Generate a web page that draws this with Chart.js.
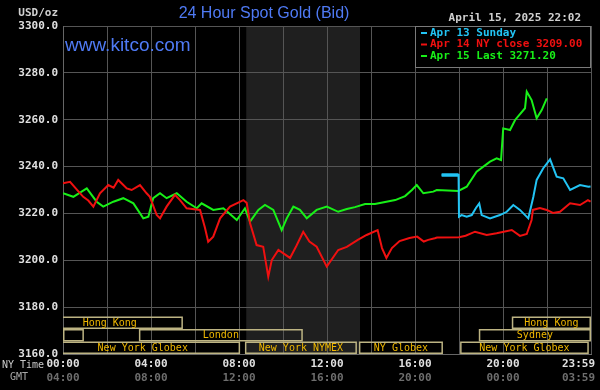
<!DOCTYPE html>
<html>
<head>
<meta charset="utf-8">
<script src="https://cdn.jsdelivr.net/npm/chart.js@4.4.1/dist/chart.umd.min.js"></script>
<style>
  body { margin: 0; background: #000; }
  #wrap { width: 600px; height: 390px; }
</style>
</head>
<body>
<div id="wrap"><canvas id="myChart"></canvas></div>
<script>
// series labels (legend)
const SERIES_LABELS = ['Apr 13 Sunday', 'Apr 14 NY close 3209.00', 'Apr 15 Last 3271.20'];
const SERIES_COLORS = ['#22c4f4', '#f01010', '#18f018'];

// Apr 13 Sunday (cyan)
const cyanHours = [17.21, 17.98, 18.0, 18.12, 18.35, 18.58, 18.77, 18.92, 19.03, 19.41, 19.86, 20.17, 20.47, 20.77, 21.15, 21.38, 21.53, 21.83, 22.14, 22.44, 22.74, 23.05, 23.5, 23.88, 23.98];
const cyanPrices = [3236.4, 3236.4, 3218.6, 3219.3, 3218.6, 3219.3, 3222.3, 3224.3, 3219.3, 3217.9, 3219.3, 3220.7, 3223.6, 3221.5, 3217.9, 3227.1, 3234.3, 3239.3, 3243.1, 3235.7, 3235.0, 3230.0, 3232.1, 3231.4, 3231.5];

// Apr 14 (red)
const redHours = [0, 0.32, 0.6, 0.92, 1.15, 1.38, 1.68, 2.06, 2.3, 2.51, 2.9, 3.12, 3.5, 3.8, 3.95, 4.26, 4.41, 4.71, 5.09, 5.32, 5.62, 6.23, 6.45, 6.6, 6.83, 7.14, 7.59, 8.2, 8.35, 8.5, 8.8, 9.1, 9.33, 9.49, 9.79, 10.32, 10.6, 10.92, 11.2, 11.53, 11.99, 12.51, 12.9, 13.4, 13.8, 14.3, 14.5, 14.7, 14.95, 15.3, 15.75, 16.1, 16.4, 16.6, 16.9, 17.0, 18.0, 18.3, 18.73, 19.26, 19.71, 20.4, 20.77, 21.08, 21.3, 21.36, 21.68, 21.99, 22.27, 22.59, 23.05, 23.5, 23.86, 23.98];
const redPrices = [3232.9, 3233.5, 3230.5, 3227.1, 3225.5, 3222.9, 3228.6, 3232.1, 3231.0, 3234.3, 3230.7, 3230.0, 3232.1, 3228.6, 3227.1, 3219.3, 3217.9, 3222.9, 3227.9, 3225.7, 3222.2, 3221.5, 3214.0, 3207.9, 3210.1, 3217.9, 3222.9, 3225.7, 3224.5, 3215.9, 3206.5, 3205.8, 3193.0, 3200.1, 3204.4, 3201.0, 3206.0, 3212.2, 3208.0, 3205.8, 3197.3, 3204.4, 3205.7, 3208.7, 3210.8, 3212.9, 3205.2, 3201.0, 3205.2, 3208.2, 3209.5, 3210.1, 3208.0, 3208.7, 3209.4, 3209.7, 3209.8, 3210.5, 3212.2, 3210.8, 3211.5, 3212.9, 3210.4, 3211.2, 3217.2, 3221.5, 3222.3, 3221.5, 3220.2, 3220.7, 3224.3, 3223.6, 3225.7, 3225.0];

// Apr 15 (green)
const greenHours = [0, 0.47, 1.08, 1.53, 1.83, 2.29, 2.74, 3.2, 3.65, 3.88, 4.1, 4.41, 4.71, 5.17, 5.62, 6.08, 6.3, 6.83, 7.29, 7.9, 8.27, 8.5, 8.88, 9.18, 9.56, 9.94, 10.17, 10.47, 10.77, 11.08, 11.53, 11.99, 12.51, 12.9, 13.27, 13.73, 14.18, 14.64, 15.1, 15.55, 15.86, 16.08, 16.38, 16.83, 16.99, 17.97, 18.35, 18.8, 19.41, 19.71, 19.91, 20.01, 20.32, 20.55, 21.0, 21.08, 21.3, 21.53, 21.76, 21.99];
const greenPrices = [3228.6, 3227.1, 3230.7, 3225.0, 3222.9, 3225.0, 3226.5, 3224.3, 3217.9, 3218.6, 3226.5, 3228.6, 3226.5, 3228.6, 3225.0, 3222.2, 3224.3, 3221.5, 3222.2, 3217.2, 3222.2, 3216.5, 3221.5, 3223.6, 3221.5, 3212.9, 3217.9, 3222.9, 3221.5, 3217.9, 3221.5, 3222.9, 3220.7, 3221.9, 3222.7, 3224.0, 3224.0, 3224.9, 3225.7, 3227.4, 3230.0, 3232.1, 3228.6, 3229.3, 3230.0, 3229.6, 3231.4, 3237.8, 3242.1, 3243.5, 3242.8, 3256.3, 3255.6, 3259.9, 3264.9, 3272.0, 3268.4, 3260.6, 3264.1, 3269.1];

// x tick labels
const TICK_HOURS = [0, 4, 8, 12, 16, 20, 24];
const NY_LABELS = ['00:00', '04:00', '08:00', '12:00', '16:00', '20:00', '23:59'];
const GMT_LABELS = ['04:00', '08:00', '12:00', '16:00', '20:00', '00:00', '03:59'];

// NYMEX floor hours (shaded)
const nymexHours = [8.33, 13.5];

// trading sessions
const sessionNames = ['Hong Kong', 'Hong Kong', '', 'London', 'Sydney', 'New York Globex', 'New York NYMEX', 'NY Globex', 'New York Globex'];
const sessionStart = [-1.2, 20.4, 0, 3.45, 18.9, -0.8, 8.27, 13.45, 18.05];
const sessionEnd = [5.45, 24, 0.95, 10.9, 24, 8.05, 13.36, 17.27, 23.9];
const sessionRow = [0, 0, 1, 1, 1, 2, 2, 2, 2];

const MONO = '"DejaVu Sans Mono", monospace';

function toPoints(hours, prices) {
  return hours.map((h, i) => ({ x: h, y: prices[i] }));
}

const kitcoPlugin = {
  id: 'kitco',
  beforeDraw(chart) {
    const { ctx, chartArea: a, scales: { x } } = chart;
    ctx.save();
    ctx.fillStyle = '#000';
    ctx.fillRect(0, 0, chart.width, chart.height);
    const x0 = x.getPixelForValue(nymexHours[0]);
    const x1 = x.getPixelForValue(nymexHours[1]);
    ctx.fillStyle = '#1f1f1f';
    ctx.fillRect(x0, a.top, x1 - x0, a.bottom - a.top);
    ctx.restore();
  },
  beforeDatasetsDraw(chart) {
    const { ctx, chartArea: a, scales: { x } } = chart;
    const rowH = 12.5;
    ctx.save();
    ctx.beginPath();
    ctx.rect(a.left, a.top, a.right - a.left, a.bottom - a.top);
    ctx.clip();
    ctx.strokeStyle = '#bdb483';
    ctx.lineWidth = 1.5;
    ctx.font = '10px ' + MONO;
    ctx.textAlign = 'center';
    ctx.textBaseline = 'middle';
    sessionNames.forEach((name, i) => {
      const x0 = x.getPixelForValue(sessionStart[i]);
      const x1 = x.getPixelForValue(sessionEnd[i]);
      const top = a.bottom - (3 - sessionRow[i]) * rowH;
      ctx.strokeRect(x0 + 0.75, top + 0.75, x1 - x0 - 1.5, rowH - 1.5);
      ctx.fillStyle = '#f0b800';
      ctx.fillText(name, (x0 + x1) / 2, top + rowH / 2 + 0.5);
    });
    ctx.restore();
  },
  afterDraw(chart) {
    const { ctx, scales: { x } } = chart;
    ctx.save();
    // title
    ctx.textBaseline = 'middle';
    ctx.textAlign = 'center';
    ctx.fillStyle = '#4f7af4';
    ctx.font = '16px "Liberation Sans", Arial, sans-serif';
    ctx.fillText('24 Hour Spot Gold (Bid)', 264, 14);
    ctx.textAlign = 'left';
    ctx.font = '19px "Liberation Sans", Arial, sans-serif';
    ctx.fillText('www.kitco.com', 65, 46);

    ctx.font = 'bold 11px ' + MONO;
    ctx.fillStyle = '#d0d0d0';
    ctx.textAlign = 'right';
    ctx.fillText('USD/oz', 58, 13);
    ctx.fillText('April 15, 2025 22:02', 581, 18);

    // legend box
    ctx.fillStyle = '#000';
    ctx.fillRect(415, 26, 175, 41);
    ctx.strokeStyle = '#7a7a7a';
    ctx.lineWidth = 1;
    ctx.strokeRect(415.5, 26.5, 175, 41);
    ctx.textAlign = 'left';
    SERIES_LABELS.forEach((lbl, i) => {
      const y = 33 + i * 11.5;
      ctx.fillStyle = SERIES_COLORS[i];
      ctx.fillRect(421, y - 1, 6, 2);
      ctx.fillText(lbl, 430, y);
    });

    // x tick labels
    TICK_HOURS.forEach((h, i) => {
      let px = x.getPixelForValue(h);
      ctx.textAlign = 'center';
      if (i === TICK_HOURS.length - 1) { ctx.textAlign = 'right'; px += 4; }
      ctx.font = 'bold 11px ' + MONO;
      ctx.fillStyle = '#e0e0e0';
      ctx.fillText(NY_LABELS[i], px, 364);
      ctx.fillStyle = '#6e6e6e';
      ctx.fillText(GMT_LABELS[i], px, 378);
    });
    ctx.font = '10px ' + MONO;
    ctx.textAlign = 'left';
    ctx.fillStyle = '#c8c8c8';
    ctx.fillText('NY Time', 2, 365);
    ctx.fillStyle = '#a8a8a8';
    ctx.fillText('GMT', 10, 377);
    ctx.restore();
  }
};

const ctx = document.getElementById('myChart');

new Chart(ctx, {
  type: 'line',
  data: {
    datasets: [
      {
        label: SERIES_LABELS[2],
        data: toPoints(greenHours, greenPrices),
        borderColor: SERIES_COLORS[2],
        borderWidth: 2,
        order: 3
      },
      {
        label: SERIES_LABELS[1],
        data: toPoints(redHours, redPrices),
        borderColor: SERIES_COLORS[1],
        borderWidth: 2,
        order: 2
      },
      {
        label: SERIES_LABELS[0],
        data: toPoints(cyanHours, cyanPrices),
        borderColor: SERIES_COLORS[0],
        borderWidth: 2,
        order: 1
      },
      {
        // thicker pre-open bar of the Sunday series
        label: 'pre-open',
        data: toPoints(cyanHours.slice(0, 2), cyanPrices.slice(0, 2)),
        borderColor: SERIES_COLORS[0],
        borderWidth: 3.5,
        order: 0
      }
    ]
  },
  options: {
    responsive: true,
    maintainAspectRatio: false,
    devicePixelRatio: 1,
    animation: false,
    elements: {
      point: { radius: 0 },
      line: { tension: 0 }
    },
    layout: {
      padding: { left: 0, top: 26, right: 9, bottom: 36 }
    },
    plugins: {
      legend: { display: false },
      tooltip: { enabled: false }
    },
    scales: {
      x: {
        type: 'linear',
        min: 0,
        max: 24,
        ticks: { display: false, stepSize: 2 },
        grid: { color: '#555', drawTicks: false },
        border: { color: '#666' },
        afterFit: s => { s.height = 0; }
      },
      y: {
        min: 3160,
        max: 3300,
        ticks: {
          stepSize: 20,
          padding: 5,
          color: '#e0e0e0',
          font: { family: 'DejaVu Sans Mono', size: 11, weight: 'bold' },
          callback: v => v.toFixed(1)
        },
        grid: { color: '#555', drawTicks: false },
        border: { color: '#666' },
        afterFit: s => { s.width = 63; }
      }
    }
  },
  plugins: [kitcoPlugin]
});
</script>
</body>
</html>
